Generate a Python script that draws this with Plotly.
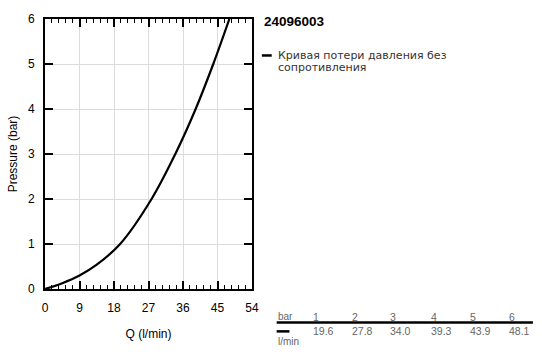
import plotly.graph_objects as go

title = "24096003"
series_name_lines = ["Кривая потери давления без", "сопротивления"]
pressure_bar = [1, 2, 3, 4, 5, 6]
flow_lpm = [19.6, 27.8, 34.0, 39.3, 43.9, 48.1]
# extra low-flow points
low_q = [0, 4.5, 9, 13.5]
low_p = [0, 0.13, 0.30, 0.54]
x_ticks = [0, 9, 18, 27, 36, 45, 54]
y_ticks = [0, 1, 2, 3, 4, 5, 6]

curve_x = low_q + flow_lpm
curve_y = low_p + pressure_bar

fig = go.Figure()
fig.add_trace(go.Scatter(x=curve_x, y=curve_y, mode="lines",
                         line=dict(color="black", width=2.2, shape="spline", smoothing=1.0),
                         showlegend=False, hoverinfo="skip"))

font = "Liberation Sans, Arial, sans-serif"
fig.update_layout(
    width=542, height=354,
    margin=dict(l=42, r=290, t=15, b=65),
    paper_bgcolor="white", plot_bgcolor="white",
    font=dict(family=font, size=12, color="black"),
    xaxis=dict(range=[0, 54], tickvals=x_ticks, ticks="inside", ticklen=8, tickwidth=1.5,
               tickcolor="black", showline=True, linecolor="black", linewidth=2, mirror="ticks",
               showgrid=True, gridcolor="#dcdcdc", gridwidth=1, zeroline=False,
               minor=dict(dtick=1.8, ticks="inside", ticklen=4, tickcolor="black", tickwidth=1, showgrid=False),
               title=dict(text="Q (l/min)", font=dict(size=12), standoff=15),
               ticklabelstandoff=7,
               tickfont=dict(size=12)),
    yaxis=dict(range=[0, 6], tickvals=y_ticks, ticks="inside", ticklen=8, tickwidth=1.5,
               tickcolor="black", showline=True, linecolor="black", linewidth=2, mirror="ticks",
               showgrid=True, gridcolor="#dcdcdc", gridwidth=1, zeroline=False,
               title=dict(text="Pressure (bar)", font=dict(size=12), standoff=8),
               ticklabelstandoff=6,
               tickfont=dict(size=12)),
)

def px(xp):
    return (xp - 42) / 210

def py(yp):
    return (289 - yp) / 274

ann = []
ann.append(dict(xref="paper", yref="paper", x=px(262), y=py(18), text="<b>" + title + "</b>",
                showarrow=False, xanchor="left", yanchor="middle",
                font=dict(family=font, size=13.5, color="black")))
for i, line in enumerate(series_name_lines):
    ann.append(dict(xref="paper", yref="paper", x=px(276), y=py(52 + 12 * i), text=line,
                    showarrow=False, xanchor="left", yanchor="middle", align="left",
                    font=dict(family="DejaVu Sans, sans-serif", size=11, color="#333")))

grey = "#666"
ann.append(dict(xref="paper", yref="paper", x=px(276), y=py(317), text="bar", showarrow=False,
                xanchor="left", yanchor="middle", font=dict(family=font, size=10, color=grey)))
ann.append(dict(xref="paper", yref="paper", x=px(276), y=py(342), text="l/min", showarrow=False,
                xanchor="left", yanchor="middle", font=dict(family=font, size=10, color=grey)))
col_x = [312, 351, 390, 432, 471, 511]
for i, (p, q) in enumerate(zip(pressure_bar, flow_lpm)):
    ann.append(dict(xref="paper", yref="paper", x=px(col_x[i]), y=py(317), text=str(p), showarrow=False,
                    xanchor="left", yanchor="middle", font=dict(family=font, size=10.5, color=grey)))
    ann.append(dict(xref="paper", yref="paper", x=px(col_x[i]), y=py(332), text=f"{q:.1f}", showarrow=False,
                    xanchor="left", yanchor="middle", font=dict(family=font, size=10.5, color=grey)))
fig.update_layout(annotations=ann)

shapes = [
    dict(type="line", xref="paper", yref="paper", x0=px(262), x1=px(272), y0=py(52), y1=py(52),
         line=dict(color="black", width=2.5)),
    dict(type="line", xref="paper", yref="paper", x0=px(277), x1=px(537), y0=py(323), y1=py(323),
         line=dict(color="black", width=2.5)),
    dict(type="line", xref="paper", yref="paper", x0=px(277), x1=px(290), y0=py(332), y1=py(332),
         line=dict(color="black", width=2.5)),
]
fig.update_layout(shapes=shapes)

fig.write_html("out.html")
